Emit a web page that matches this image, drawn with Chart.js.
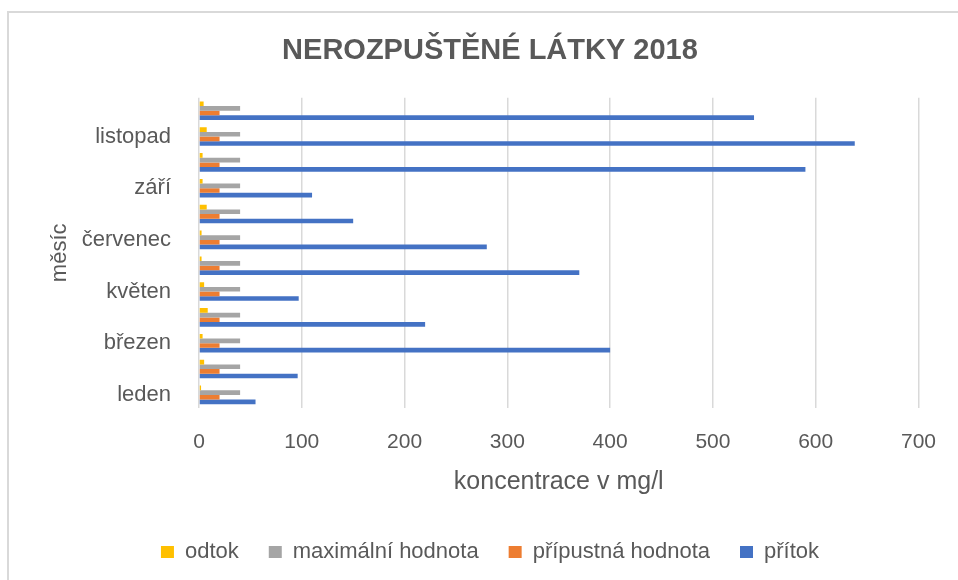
<!DOCTYPE html>
<html>
<head>
<meta charset="utf-8">
<script src="https://cdn.jsdelivr.net/npm/chart.js@4"></script>
<style>
  body { margin: 0; background: #fff; }
  #wrap { position: relative; width: 958px; height: 580px; overflow: hidden; }
  #frame { position: absolute; left: 7px; top: 11px; width: 980px; height: 600px; border: 2px solid #d9d9d9; }
  canvas { position: absolute; left: 0; top: 0; }
</style>
</head>
<body>
<div id="wrap">
  <div id="frame"></div>
  <canvas id="chart" width="958" height="580"></canvas>
</div>
<script>
const months = ["leden", "únor", "březen", "duben", "květen", "červen",
  "červenec", "srpen", "září", "říjen", "listopad", "prosinec"];
const odtok = [2, 5, 3.5, 8.5, 5, 2.5, 2.5, 7.5, 3.5, 3.5, 7.5, 4.5];
const maxHodnota = [40, 40, 40, 40, 40, 40, 40, 40, 40, 40, 40, 40];
const pripustna = [20, 20, 20, 20, 20, 20, 20, 20, 20, 20, 20, 20];
const pritok = [55, 96, 400, 220, 97, 370, 280, 150, 110, 590, 638, 540];
const xTicks = [0, 100, 200, 300, 400, 500, 600, 700];

const grey = "#595959";
const font = "'Liberation Sans', Arial, sans-serif";

new Chart(document.getElementById("chart"), {
  type: "bar",
  data: {
    labels: months,
    datasets: [
      { label: "odtok", data: odtok, backgroundColor: "#FFC000" },
      { label: "maximální hodnota", data: maxHodnota, backgroundColor: "#A5A5A5" },
      { label: "přípustná hodnota", data: pripustna, backgroundColor: "#ED7D31" },
      { label: "přítok", data: pritok, backgroundColor: "#4472C4" }
    ]
  },
  options: {
    indexAxis: "y",
    responsive: false,
    animation: false,
    datasets: { bar: { categoryPercentage: 0.72, barPercentage: 1 } },
    layout: { padding: { left: 58, right: 36, top: 0, bottom: 7 } },
    plugins: {
      title: {
        display: true,
        text: "NEROZPUŠTĚNÉ LÁTKY 2018",
        color: grey,
        font: { family: font, size: 29, weight: "bold" },
        padding: { top: 34, bottom: 29 }
      },
      legend: {
        position: "bottom",
        labels: {
          color: grey,
          font: { family: font, size: 22 },
          boxWidth: 13,
          boxHeight: 12,
          padding: 30
        }
      },
      tooltip: { enabled: false }
    },
    scales: {
      x: {
        min: 0,
        max: 700,
        afterBuildTicks: s => { s.ticks = xTicks.map(v => ({ value: v })); },
        grid: { color: "#d9d9d9", lineWidth: 1.5, drawTicks: false },
        border: { display: false },
        ticks: { color: grey, font: { family: font, size: 21 }, padding: 22 },
        title: {
          display: true,
          text: "koncentrace v mg/l",
          color: grey,
          font: { family: font, size: 25 },
          padding: { top: -10, bottom: 14 }
        }
      },
      y: {
        reverse: true,
        afterFit: s => { s.width = 141; },
        grid: { display: false, drawTicks: false },
        border: { display: false },
        ticks: {
          autoSkip: false,
          color: grey,
          font: { family: font, size: 22 },
          padding: 28,
          callback: (v, i) => (i % 2 === 0 ? months[i] : "")
        },
        title: {
          display: true,
          text: "měsíc",
          color: grey,
          font: { family: font, size: 22 },
          padding: { top: -11, bottom: 8 }
        }
      }
    }
  }
});
</script>
</body>
</html>
